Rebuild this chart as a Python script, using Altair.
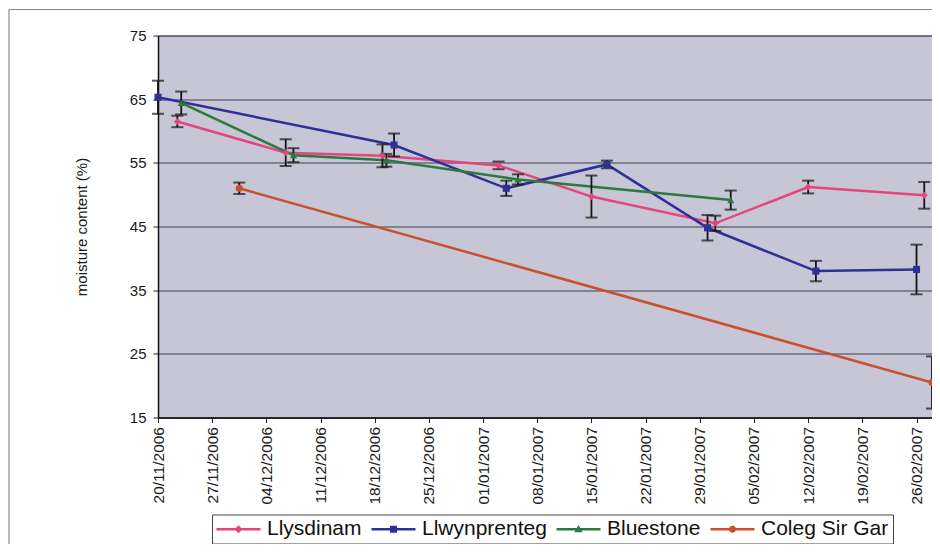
import altair as alt
import pandas as pd

series_names = ["Llysdinam", "Llwynprenteg", "Bluestone", "Coleg Sir Gar"]
series_colors = ["#E5457F", "#2F3095", "#2A7A3E", "#C8502E"]
marker_shapes = ["diamond", "square", "triangle-up", "circle"]

llysdinam_dates = ["2006-11-22T12:00", "2006-12-06T12:00", "2006-12-19T00:00", "2007-01-03T00:00",
                   "2007-01-15T00:00", "2007-01-31T00:00", "2007-02-12T00:00", "2007-02-27T00:00"]
llysdinam_values = [61.5, 56.6, 56.1, 54.6, 49.7, 45.5, 51.2, 49.9]
llysdinam_errors = [0.9, 2.1, 1.8, 0.6, 3.3, 1.2, 1.0, 2.1]

llwynprenteg_dates = ["2006-11-20T00:00", "2006-12-20T12:00", "2007-01-04T00:00", "2007-01-17T00:00",
                      "2007-01-30T00:00", "2007-02-13T00:00", "2007-02-26T00:00"]
llwynprenteg_values = [65.3, 57.8, 51.0, 54.75, 44.8, 38.0, 38.25]
llwynprenteg_errors = [2.6, 1.8, 1.2, 0.6, 2.0, 1.6, 3.9]

bluestone_dates = ["2006-11-23T00:00", "2006-12-07T12:00", "2006-12-19T12:00", "2007-01-05T12:00",
                   "2007-02-02T00:00"]
bluestone_values = [64.4, 56.2, 55.4, 52.4, 49.15]
bluestone_errors = [1.8, 1.1, 1.0, 0.8, 1.5]

coleg_dates = ["2006-11-30T12:00", "2007-02-28T00:00"]
coleg_values = [51.0, 20.5]
coleg_errors = [0.9, 4.1]

tick_dates = [(2006, 11, 20), (2006, 11, 27), (2006, 12, 4), (2006, 12, 11), (2006, 12, 18),
              (2006, 12, 25), (2007, 1, 1), (2007, 1, 8), (2007, 1, 15), (2007, 1, 22),
              (2007, 1, 29), (2007, 2, 5), (2007, 2, 12), (2007, 2, 19), (2007, 2, 26)]
x_start = (2006, 11, 20)
x_end = (2007, 2, 28)
y_ticks = [15, 25, 35, 45, 55, 65, 75]

# legend symbols: a line with the series marker on it (custom paths, all drawn clockwise)
legend_line = "M-1,-0.13H3.4V0.13H-1Z"
legend_markers = [
    "M1.2,-0.4L1.6,0L1.2,0.4L0.8,0Z",
    "M0.85,-0.35H1.55V0.35H0.85Z",
    "M1.2,-0.42L1.62,0.3H0.78Z",
    "M0.85,0A0.35,0.35,0,1,1,1.55,0A0.35,0.35,0,1,1,0.85,0Z",
]
legend_paths = [legend_line + m for m in legend_markers]

rows = []
for name, ds, vs, es in [
    ("Llysdinam", llysdinam_dates, llysdinam_values, llysdinam_errors),
    ("Llwynprenteg", llwynprenteg_dates, llwynprenteg_values, llwynprenteg_errors),
    ("Bluestone", bluestone_dates, bluestone_values, bluestone_errors),
    ("Coleg Sir Gar", coleg_dates, coleg_values, coleg_errors),
]:
    for d, v, e in zip(ds, vs, es):
        rows.append({"series": name, "date": d, "value": v, "lo": v - e, "hi": v + e})
df = pd.DataFrame(rows)

FONT = "Liberation Sans"


def dt(t):
    return alt.DateTime(year=t[0], month=t[1], date=t[2])


x_scale = alt.Scale(domain=[dt(x_start), dt(x_end)])
x_axis = alt.Axis(values=[dt(t) for t in tick_dates], format="%d/%m/%Y", title=None,
                  labelAngle=270, labelAlign="right", labelBaseline="middle",
                  labelFont=FONT, labelFontSize=15.5, labelColor="#1a1a1a", labelPadding=4,
                  tickSize=5, tickColor="#222", domainColor="#111", domainWidth=1.5,
                  grid=False, labelOverlap=False)
y_scale = alt.Scale(domain=[15, 75], nice=False, zero=False)
y_axis = alt.Axis(values=y_ticks, title="moisture content (%)", titleFont=FONT,
                  titleFontSize=15, titleFontWeight="normal", titleColor="#1a1a1a",
                  titlePadding=40, labelFont=FONT, labelFontSize=15, labelColor="#1a1a1a",
                  labelPadding=7, tickSize=5, tickColor="#222", domainColor="#111",
                  domainWidth=1.5, grid=True, gridColor="#3f3f4f", gridWidth=1)

X = alt.X("date:T", scale=x_scale, axis=x_axis)
color_scale = alt.Scale(domain=series_names, range=series_colors)

base = alt.Chart(df)

lines = base.mark_line(strokeWidth=2.5).encode(
    x=X, y=alt.Y("value:Q", scale=y_scale, axis=y_axis),
    color=alt.Color("series:N", scale=color_scale, legend=None),
    detail="series:N",
)
err_rules = base.mark_rule(color="#151515", strokeWidth=1.8).encode(
    x=X, y=alt.Y("lo:Q", scale=y_scale, axis=y_axis), y2="hi:Q"
)
caps_lo = base.mark_tick(orient="horizontal", color="#151515", size=12, thickness=2).encode(
    x=X, y=alt.Y("lo:Q", scale=y_scale, axis=y_axis)
)
caps_hi = base.mark_tick(orient="horizontal", color="#151515", size=12, thickness=2).encode(
    x=X, y=alt.Y("hi:Q", scale=y_scale, axis=y_axis)
)
points = base.mark_point(filled=True, size=50, opacity=1).encode(
    x=X, y=alt.Y("value:Q", scale=y_scale, axis=y_axis),
    color=alt.Color("series:N", scale=color_scale, legend=None),
    shape=alt.Shape("series:N", scale=alt.Scale(domain=series_names, range=marker_shapes), legend=None),
)

leg = alt.Legend(title=None, orient="none", legendX=54, legendY=479, direction="horizontal",
                 columns=4, labelFont=FONT, labelFontSize=21, labelColor="#111",
                 labelOffset=30, columnPadding=9, symbolSize=400, symbolStrokeWidth=0,
                 padding=4, strokeColor="#444", fillColor="#ffffff")
legend_layer = base.transform_filter("false").mark_point(filled=True, opacity=1).encode(
    x=X, y=alt.Y("value:Q", scale=y_scale, axis=y_axis),
    color=alt.Color("series:N", scale=color_scale, legend=leg),
    shape=alt.Shape("series:N", scale=alt.Scale(domain=series_names, range=legend_paths), legend=leg),
)

frame_df = pd.DataFrame({"k": [0]})
frame_top = alt.Chart(frame_df).mark_rule(color="#8a8a8a", strokeWidth=1.2).encode(
    x=alt.value(-149), x2=alt.value(790), y=alt.value(-26)
)
frame_left = alt.Chart(frame_df).mark_rule(color="#8a8a8a", strokeWidth=1.2).encode(
    x=alt.value(-149), y=alt.value(-26), y2=alt.value(520)
)

chart = alt.layer(
    frame_top, frame_left, lines, err_rules, caps_lo, caps_hi, points, legend_layer
).resolve_scale(
    color="independent", shape="independent"
).properties(
    width=774, height=382,
    autosize=alt.AutoSizeParams(type="none"),
    padding={"left": 150, "top": 27.5, "right": 0, "bottom": 126.5},
    background="#ffffff",
).configure_view(
    fill="#C6C6D6", stroke="#6a6a6a", strokeWidth=1
)

chart.save("out.html", embed_options={"renderer": "svg", "actions": False})
